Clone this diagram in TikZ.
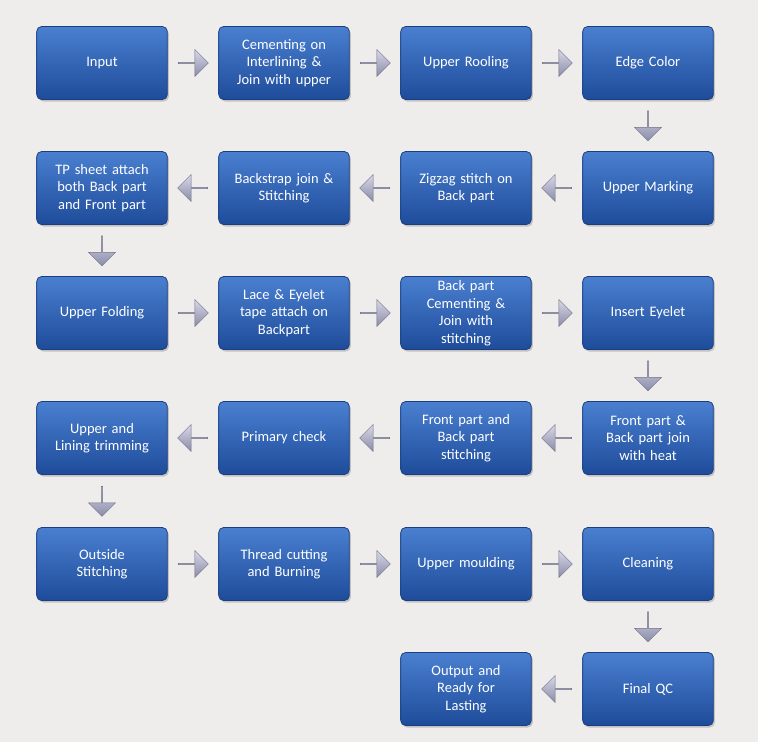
\documentclass[tikz,border=0pt]{standalone}
\usepackage{fontspec}
\setmainfont{Carlito}
\usetikzlibrary{shapes.arrows,shadows,calc}
\definecolor{bg}{HTML}{EEEDEB}
\definecolor{btop}{HTML}{4A7FD0}
\definecolor{bbot}{HTML}{1E4C9A}
\definecolor{bedge}{HTML}{1A3F80}
\definecolor{atop}{HTML}{D8D8E8}
\definecolor{abot}{HTML}{8A8CA8}
\tikzset{
  box/.style={draw=bedge, line width=0.8pt, rounded corners=5pt, minimum width=130pt, minimum height=73pt,
    top color=btop, bottom color=bbot, text=white, font=\fontsize{14.5}{17.5}\selectfont, align=center,
    text width=124pt, drop shadow={shadow xshift=1.5pt, shadow yshift=-2pt, fill=black!40, opacity=0.5}},
  arr/.style={single arrow, draw=abot!80!black, line width=0.4pt, minimum height=30pt, minimum width=27pt,
    single arrow head extend=4pt, inner sep=0pt, shading=axis, top color=atop, bottom color=abot, shading angle=0}
}
\newcommand{\harr}[2]{\node[arr, shape border rotate=0] at ($(#1)!0.5!(#2)$) {};}
\newcommand{\larr}[2]{\node[arr, shape border rotate=180] at ($(#1)!0.5!(#2)$) {};}
\newcommand{\darr}[2]{\node[arr, shape border rotate=270] at ($(#1)!0.5!(#2)$) {};}
\begin{document}
\begin{tikzpicture}[x=1pt,y=-1pt]
\fill[bg] (0,0) rectangle (758,742);
\useasboundingbox (0,0) rectangle (758,742);
\node[box] (a1) at (102,63) {Input};
\node[box] (a2) at (284,63) {Cementing on\\Interlining \&\\Join with upper};
\node[box] (a3) at (466,63) {Upper Rooling};
\node[box] (a4) at (648,63) {Edge Color};
\node[box] (b4) at (648,188) {Upper Marking};
\node[box] (b3) at (466,188) {Zigzag stitch on\\Back part};
\node[box] (b2) at (284,188) {Backstrap join \&\\Stitching};
\node[box] (b1) at (102,188) {TP sheet attach\\both Back part\\and Front part};
\node[box] (c1) at (102,313) {Upper Folding};
\node[box] (c2) at (284,313) {Lace \& Eyelet\\tape attach on\\Backpart};
\node[box] (c3) at (466,313) {Back part\\Cementing \&\\Join with\\stitching};
\node[box] (c4) at (648,313) {Insert Eyelet};
\node[box] (d4) at (648,438) {Front part \&\\Back part join\\with heat};
\node[box] (d3) at (466,438) {Front part and\\Back part\\stitching};
\node[box] (d2) at (284,438) {Primary check};
\node[box] (d1) at (102,438) {Upper and\\Lining trimming};
\node[box] (e1) at (102,564) {Outside\\Stitching};
\node[box] (e2) at (284,564) {Thread cutting\\and Burning};
\node[box] (e3) at (466,564) {Upper moulding};
\node[box] (e4) at (648,564) {Cleaning};
\node[box] (f4) at (648,689) {Final QC};
\node[box] (f3) at (466,689) {Output and\\Ready for\\Lasting};
\harr{a1}{a2}\harr{a2}{a3}\harr{a3}{a4}\darr{a4}{b4}
\larr{b4}{b3}\larr{b3}{b2}\larr{b2}{b1}\darr{b1}{c1}
\harr{c1}{c2}\harr{c2}{c3}\harr{c3}{c4}\darr{c4}{d4}
\larr{d4}{d3}\larr{d3}{d2}\larr{d2}{d1}\darr{d1}{e1}
\harr{e1}{e2}\harr{e2}{e3}\harr{e3}{e4}\darr{e4}{f4}
\larr{f4}{f3}
\end{tikzpicture}
\end{document}
